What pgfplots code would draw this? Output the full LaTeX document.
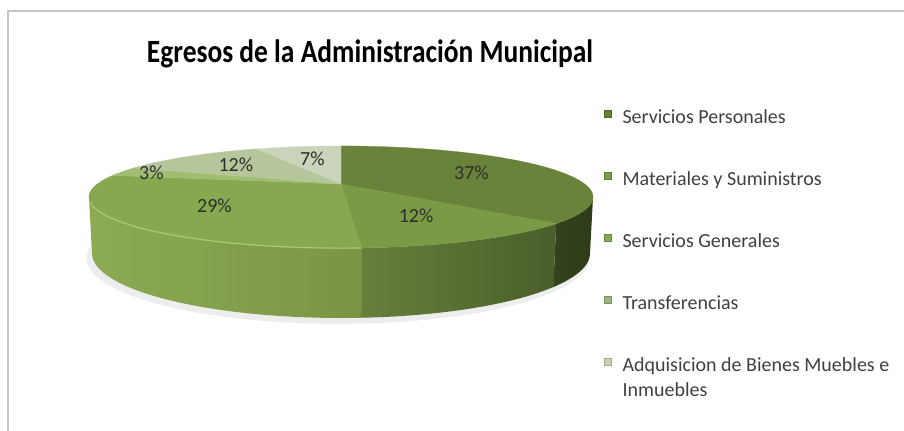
\documentclass[border=0pt]{standalone}
\usepackage{fontspec}
\setmainfont{Carlito}
\usepackage{pgfplots}
\pgfplotsset{compat=1.18}
\definecolor{s1}{HTML}{6B823A}
\definecolor{s2}{HTML}{7B9A46}
\definecolor{s3}{HTML}{88A84F}
\definecolor{s4}{HTML}{A1BD72}
\definecolor{s5}{HTML}{B5C69B}
\definecolor{s6}{HTML}{C9D4BA}
\definecolor{w1l}{HTML}{34431C}
\definecolor{w1r}{HTML}{2E3A18}
\definecolor{w2l}{HTML}{66803A}
\definecolor{w2r}{HTML}{4A5E2B}
\definecolor{w3l}{HTML}{8CAB52}
\definecolor{w3r}{HTML}{7A9445}
\definecolor{rim}{HTML}{A8CC6C}
\definecolor{l1}{HTML}{60802E}
\definecolor{l2}{HTML}{7BA043}
\definecolor{l3}{HTML}{86AA50}
\definecolor{l4}{HTML}{9DB879}
\definecolor{l5}{HTML}{C5D3B1}
\definecolor{legtext}{HTML}{404040}
\definecolor{labtext}{HTML}{2E2E2E}
\definecolor{frame}{HTML}{C4C4C4}
% shares (percent), clockwise from 12 o'clock
\pgfmathsetmacro\tA{0}
\pgfmathsetmacro\tB{\tA+3.6*37}
\pgfmathsetmacro\tC{\tB+3.6*12}
\pgfmathsetmacro\tD{\tC+3.6*29}
\pgfmathsetmacro\tE{\tD+3.6*3}
\pgfmathsetmacro\tF{\tE+3.6*12}
\pgfmathsetmacro\tG{\tF+3.6*7}
\pgfmathsetmacro\mA{(\tA+\tB)/2}
\pgfmathsetmacro\mB{(\tB+\tC)/2}
\pgfmathsetmacro\mC{(\tC+\tD)/2}
\pgfmathsetmacro\mD{(\tD+\tE)/2}
\pgfmathsetmacro\mE{(\tE+\tF)/2}
\pgfmathsetmacro\mF{(\tF+\tG)/2}
\begin{document}
\begin{tikzpicture}[declare function={
  ddd(\t,\r,\z)=3.845+0.981*\r*cos(\t)-0.196*\z;
  pxx(\t,\r,\z)=341+937*\r*sin(\t)/ddd(\t,\r,\z);
  pyy(\t,\r,\z)=184-937*(0.196*\r*cos(\t)+0.981*\z)/ddd(\t,\r,\z);
  wt(\x,\ta,\tb)=(\x<1.001) ? (\ta+\x*(\tb-\ta)) : (\tb-(\x-1-1/60)*(\tb-\ta)*60/59);
  wz(\x)=(\x<1.001) ? 0 : -0.224;
}]
\begin{axis}[
  scale only axis, width=678pt, height=322.5pt,
  xmin=0, xmax=904, ymin=0, ymax=430, y dir=reverse,
  hide axis, clip=false,
  legend image code/.code={\path[#1] (-5.5pt,1.5pt) rectangle (0pt,7pt);},
  legend cell align=left,
  legend style={draw=none, fill=none, inner sep=0pt, outer sep=0pt,
    at={(axis cs:604,109.3)}, anchor=north west,
    font=\fontsize{15}{18.75}\selectfont, text=legtext,
    nodes={text height=11pt, text depth=4pt, inner sep=0pt},
    row sep=31.5pt, column sep=8pt},
]
\coordinate (bl) at (axis cs:0,430);
\coordinate (tr) at (axis cs:904,0);
% chart frame
\draw[frame, line width=1.2pt] (axis cs:8,431) -- (axis cs:8,11) -- (axis cs:905,11);
% soft shadow
\addplot[forget plot, draw=none, fill=black, fill opacity=0.07, domain=0:360, samples=120]
  ({pxx(x,1.01,-0.23)-3},{pyy(x,1.01,-0.23)+3}) -- cycle;
% visible side walls (front part)
\addplot[forget plot, draw=none, left color=w1l, right color=w1r, domain=0:2, samples=121]
  ({pxx(wt(x,105.4,\tB),1,wz(x))},{pyy(wt(x,105.4,\tB),1,wz(x))}) -- cycle;
\addplot[forget plot, draw=none, left color=w2l, right color=w2r, domain=0:2, samples=121]
  ({pxx(wt(x,\tB,\tC),1,wz(x))},{pyy(wt(x,\tB,\tC),1,wz(x))}) -- cycle;
\addplot[forget plot, draw=none, left color=w3l, right color=w3r, domain=0:2, samples=121]
  ({pxx(wt(x,\tC,254.6),1,wz(x))},{pyy(wt(x,\tC,254.6),1,wz(x))}) -- cycle;
% top faces
\addplot[forget plot, fill=s1, draw=s1, line width=0.2pt, domain=\tA:\tB, samples=90]
  ({pxx(x,1,0)},{pyy(x,1,0)}) -- (axis cs:341,184) -- cycle;
\addplot[forget plot, fill=s2, draw=s2, line width=0.2pt, domain=\tB:\tC, samples=40]
  ({pxx(x,1,0)},{pyy(x,1,0)}) -- (axis cs:341,184) -- cycle;
\addplot[forget plot, fill=s3, draw=s3, line width=0.2pt, domain=\tC:\tD, samples=80]
  ({pxx(x,1,0)},{pyy(x,1,0)}) -- (axis cs:341,184) -- cycle;
\addplot[forget plot, fill=s4, draw=s4, line width=0.2pt, domain=\tD:\tE, samples=15]
  ({pxx(x,1,0)},{pyy(x,1,0)}) -- (axis cs:341,184) -- cycle;
\addplot[forget plot, fill=s5, draw=s5, line width=0.2pt, domain=\tE:\tF, samples=40]
  ({pxx(x,1,0)},{pyy(x,1,0)}) -- (axis cs:341,184) -- cycle;
\addplot[forget plot, fill=s6, draw=s6, line width=0.2pt, domain=\tF:\tG, samples=25]
  ({pxx(x,1,0)},{pyy(x,1,0)}) -- (axis cs:341,184) -- cycle;
% light rim highlight on the front edge
\addplot[forget plot, draw=rim, line width=0.9pt, domain=\tC:250, samples=60]
  ({pxx(x,1,0)},{pyy(x,1,0)});
% data labels
\begin{scope}[every node/.style={font=\fontsize{15}{18}\selectfont, text=labtext}]
\node at (axis cs:{pxx(\mA,0.62,0)},{pyy(\mA,0.62,0)}) {37\%};
\node at (axis cs:{pxx(\mB,0.62,0)},{pyy(\mB,0.62,0)}) {12\%};
\node at (axis cs:{pxx(\mC,0.62,0)},{pyy(\mC,0.62,0)}) {29\%};
\node at (axis cs:{pxx(\mD,0.86,0)},{pyy(\mD,0.86,0)}) {3\%};
\node at (axis cs:{pxx(\mE,0.66,0)},{pyy(\mE,0.66,0)}) {12\%};
\node at (axis cs:{pxx(\mF,0.62,0)},{pyy(\mF,0.62,0)}) {7\%};
\end{scope}
% title
\node[anchor=base, font=\fontsize{20.6}{24}\selectfont\bfseries] at (axis cs:370,62)
  {\scalebox{1.0}[1.18]{Egresos de la Administración Municipal}};
% legend
\addlegendimage{fill=l1, draw=l1!80!black}
\addlegendentry{Servicios Personales}
\addlegendimage{fill=l2, draw=l2!80!black}
\addlegendentry{Materiales y Suministros}
\addlegendimage{fill=l3, draw=l3!80!black}
\addlegendentry{Servicios Generales}
\addlegendimage{fill=l4, draw=l4!80!black}
\addlegendentry{Transferencias}
\addlegendimage{fill=l5, draw=l5!80!black}
\addlegendentry{\parbox[t]{210pt}{Adquisicion de Bienes Muebles e\\Inmuebles}}
\end{axis}
\pgfresetboundingbox
\path (bl) rectangle (tr);
\end{tikzpicture}
\end{document}
